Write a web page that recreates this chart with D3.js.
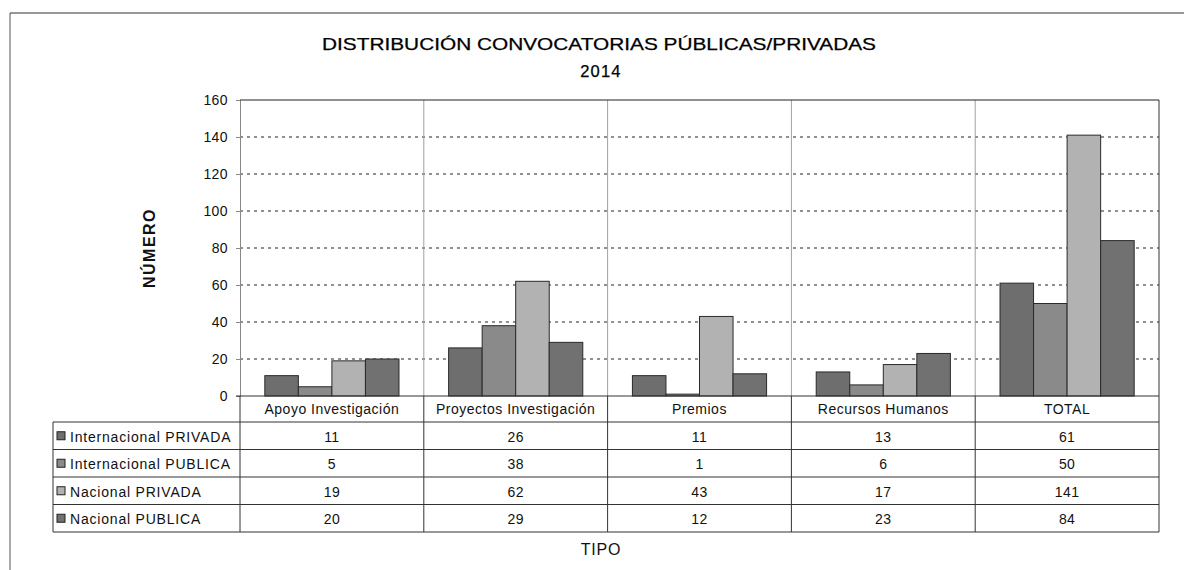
<!DOCTYPE html>
<html>
<head>
<meta charset="utf-8">
<script src="https://cdn.jsdelivr.net/npm/d3@7"></script>
<style>
  html, body { margin: 0; padding: 0; background: #fff; }
  svg { display: block; font-family: "Liberation Sans", Arial, sans-serif; }
</style>
</head>
<body>
<svg id="chart" width="1184" height="570"></svg>
<script>
// ---- data ----
const categories = ["Apoyo Investigación", "Proyectos Investigación", "Premios", "Recursos Humanos", "TOTAL"];
const seriesNames = ["Internacional PRIVADA", "Internacional PUBLICA", "Nacional PRIVADA", "Nacional PUBLICA"];
const internacionalPrivada = [11, 26, 11, 13, 61];
const internacionalPublica = [5, 38, 1, 6, 50];
const nacionalPrivada = [19, 62, 43, 17, 141];
const nacionalPublica = [20, 29, 12, 23, 84];
const yTicks = [0, 20, 40, 60, 80, 100, 120, 140, 160];
const seriesColors = ["#6e6e6e", "#8a8a8a", "#b2b2b2", "#717171"];

const seriesValues = [internacionalPrivada, internacionalPublica, nacionalPrivada, nacionalPublica];

// ---- layout ----
const svg = d3.select("#chart");
const plotL = 240, plotR = 1159, plotT = 100, plotB = 396;
const headerB = 422, tableB = 532, tableL = 53;
const rowH = (tableB - headerB) / seriesNames.length;

const x = d3.scaleBand().domain(categories).range([plotL, plotR]).paddingInner(0).paddingOuter(0);
const xi = d3.scaleBand().domain(seriesNames).range([0, x.bandwidth()]).paddingInner(0).paddingOuter(0.74);
const y = d3.scaleLinear().domain([0, 160]).range([plotB, plotT]);
const color = d3.scaleOrdinal().domain(seriesNames).range(seriesColors);

// outer frame (left & top edges visible)
svg.append("line").attr("x1", 10).attr("x2", 10).attr("y1", 13).attr("y2", 570)
  .attr("stroke", "#555").attr("stroke-width", 1);
svg.append("line").attr("x1", 10).attr("x2", 1184).attr("y1", 13).attr("y2", 13)
  .attr("stroke", "#333").attr("stroke-width", 1.2);

// title
svg.append("text").attr("x", 599).attr("y", 44).attr("text-anchor", "middle")
  .attr("dominant-baseline", "central").attr("font-size", 16.5).attr("fill", "#000")
  .attr("stroke", "#000").attr("stroke-width", 0.25)
  .attr("textLength", 554).attr("lengthAdjust", "spacingAndGlyphs")
  .text("DISTRIBUCIÓN CONVOCATORIAS PÚBLICAS/PRIVADAS");
svg.append("text").attr("x", 601).attr("y", 71).attr("text-anchor", "middle")
  .attr("dominant-baseline", "central").attr("font-size", 16.5).attr("fill", "#000")
  .attr("stroke", "#000").attr("stroke-width", 0.25).attr("letter-spacing", 1.2)
  .text("2014");

// y axis label
svg.append("text").attr("transform", `translate(149,${(plotT + plotB) / 2}) rotate(-90)`)
  .attr("text-anchor", "middle").attr("dominant-baseline", "central")
  .attr("font-size", 16).attr("font-weight", "bold").attr("fill", "#111")
  .attr("letter-spacing", 1.5).text("NÚMERO");

// gridlines (dotted)
svg.append("g").selectAll("line").data(yTicks.filter(d => d > 0 && d < 160)).join("line")
  .attr("x1", plotL).attr("x2", plotR)
  .attr("y1", d => y(d)).attr("y2", d => y(d))
  .attr("stroke", "#222").attr("stroke-width", 1).attr("stroke-dasharray", "3,4");

// category separators inside plot
svg.append("g").selectAll("line").data(categories.slice(1)).join("line")
  .attr("x1", d => x(d)).attr("x2", d => x(d))
  .attr("y1", plotT).attr("y2", plotB)
  .attr("stroke", "#a0a0a0").attr("stroke-width", 1);

// y axis
const yAxis = d3.axisLeft(y).tickValues(yTicks).tickSize(4).tickPadding(8);
const gy = svg.append("g").attr("transform", `translate(${plotL},0)`).call(yAxis);
gy.select(".domain").attr("stroke", "#888");
gy.selectAll(".tick line").attr("stroke", "#888");
gy.selectAll(".tick text").attr("font-size", 14).attr("fill", "#111")
  .attr("letter-spacing", 0.4)
  .attr("font-family", "Liberation Sans, Arial, sans-serif");

// plot top & right border
svg.append("line").attr("x1", plotL).attr("x2", plotR).attr("y1", plotT).attr("y2", plotT)
  .attr("stroke", "#222").attr("stroke-width", 1.2);
svg.append("line").attr("x1", plotR).attr("x2", plotR).attr("y1", plotT).attr("y2", tableB)
  .attr("stroke", "#333").attr("stroke-width", 1);

// bars
const groups = svg.append("g").selectAll("g").data(categories).join("g")
  .attr("transform", d => `translate(${x(d)},0)`);
groups.selectAll("rect").data((c, ci) => seriesNames.map((s, si) => ({ s, v: seriesValues[si][ci] }))).join("rect")
  .attr("x", d => xi(d.s)).attr("width", xi.bandwidth())
  .attr("y", d => y(d.v)).attr("height", d => y(0) - y(d.v))
  .attr("fill", d => color(d.s)).attr("stroke", "#2a2a2a").attr("stroke-width", 1);

// baseline
svg.append("line").attr("x1", plotL - 4).attr("x2", plotR).attr("y1", plotB).attr("y2", plotB)
  .attr("stroke", "#333").attr("stroke-width", 1);

// ---- data table ----
const tbl = svg.append("g");
// category header labels
tbl.selectAll("text.cat").data(categories).join("text").attr("class", "cat")
  .attr("x", d => x(d) + x.bandwidth() / 2).attr("y", (plotB + headerB) / 2)
  .attr("text-anchor", "middle").attr("dominant-baseline", "central")
  .attr("font-size", 14).attr("letter-spacing", 0.5).attr("fill", "#111").text(d => d);

// horizontal lines
const hLines = d3.range(seriesNames.length + 1).map(i => headerB + i * rowH);
tbl.selectAll("line.h").data(hLines).join("line").attr("class", "h")
  .attr("x1", tableL).attr("x2", plotR).attr("y1", d => d).attr("y2", d => d)
  .attr("stroke", "#333").attr("stroke-width", 1);
// vertical lines
tbl.selectAll("line.v").data(categories.slice(1)).join("line").attr("class", "v")
  .attr("x1", d => x(d)).attr("x2", d => x(d)).attr("y1", plotB).attr("y2", tableB)
  .attr("stroke", "#333").attr("stroke-width", 1);
tbl.append("line").attr("x1", plotL).attr("x2", plotL).attr("y1", plotB).attr("y2", tableB)
  .attr("stroke", "#333").attr("stroke-width", 1);
tbl.append("line").attr("x1", tableL).attr("x2", tableL).attr("y1", headerB).attr("y2", tableB)
  .attr("stroke", "#333").attr("stroke-width", 1);

// legend rows
const rows = tbl.selectAll("g.row").data(seriesNames).join("g").attr("class", "row")
  .attr("transform", (d, i) => `translate(0,${headerB + i * rowH + rowH / 2})`);
rows.append("rect").attr("x", 57).attr("y", -4).attr("width", 8).attr("height", 8)
  .attr("fill", d => color(d)).attr("stroke", "#222").attr("stroke-width", 1);
rows.append("text").attr("x", 70).attr("y", 1).attr("dominant-baseline", "central")
  .attr("font-size", 14).attr("letter-spacing", 0.8).attr("fill", "#111").text(d => d);
rows.selectAll("text.val").data((s, si) => categories.map((c, ci) => ({ c, v: seriesValues[si][ci] }))).join("text")
  .attr("class", "val")
  .attr("x", d => x(d.c) + x.bandwidth() / 2).attr("y", 1)
  .attr("text-anchor", "middle").attr("dominant-baseline", "central")
  .attr("font-size", 14).attr("letter-spacing", 0.4).attr("fill", "#111").text(d => d.v);

// x axis title
svg.append("text").attr("x", 601).attr("y", 549).attr("text-anchor", "middle")
  .attr("dominant-baseline", "central").attr("font-size", 16).attr("letter-spacing", 0.8)
  .attr("fill", "#111").text("TIPO");
</script>
</body>
</html>
